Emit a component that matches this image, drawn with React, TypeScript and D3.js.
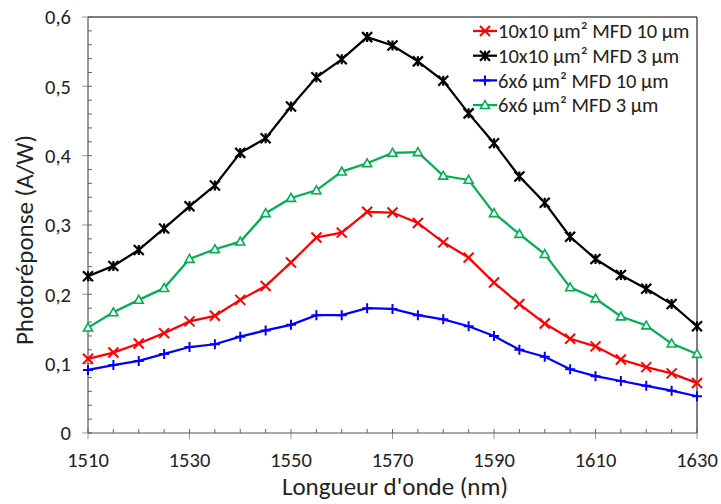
import React from "react";
import * as d3 from "d3";

const wavelengths = [1510,1515,1520,1525,1530,1535,1540,1545,1550,1555,1560,1565,1570,1575,1580,1585,1590,1595,1600,1605,1610,1615,1620,1625,1630];
const red10x10mfd10 = [0.107,0.116,0.129,0.144,0.161,0.169,0.192,0.212,0.246,0.282,0.289,0.319,0.318,0.303,0.275,0.253,0.217,0.186,0.158,0.136,0.125,0.106,0.095,0.086,0.072];
const black10x10mfd3 = [0.226,0.241,0.264,0.295,0.327,0.357,0.404,0.425,0.471,0.513,0.539,0.571,0.559,0.536,0.508,0.461,0.418,0.370,0.332,0.283,0.251,0.228,0.208,0.186,0.154];
const blue6x6mfd10 = [0.091,0.098,0.104,0.114,0.124,0.128,0.139,0.148,0.156,0.170,0.170,0.180,0.179,0.170,0.164,0.154,0.140,0.120,0.110,0.092,0.082,0.075,0.068,0.061,0.053];
const green6x6mfd3 = [0.152,0.174,0.192,0.209,0.251,0.265,0.276,0.317,0.339,0.350,0.377,0.389,0.404,0.405,0.371,0.365,0.317,0.287,0.258,0.210,0.194,0.168,0.155,0.129,0.114];

const seriesNames = ["10x10 µm² MFD 10 µm", "10x10 µm² MFD 3 µm", "6x6 µm² MFD 10 µm", "6x6 µm² MFD 3 µm"];
const seriesColors = ["#FF0000", "#000000", "#0000FF", "#00B050"];
const seriesMarkers = ["x", "star", "plus", "triangle"];
const seriesValues = [red10x10mfd10, black10x10mfd3, blue6x6mfd10, green6x6mfd3];

const xTicks = [1510, 1530, 1550, 1570, 1590, 1610, 1630];
const yTicks = [0, 0.1, 0.2, 0.3, 0.4, 0.5, 0.6];

const W = 721, H = 504;
const M = { left: 88, right: 721 - 697, top: 17, bottom: 504 - 433 };

function Marker({ type, x, y, color }: { type: string; x: number; y: number; color: string }) {
  const s = 5;
  if (type === "x") {
    return <path d={`M${x - s},${y - s}L${x + s},${y + s}M${x - s},${y + s}L${x + s},${y - s}`} stroke={color} strokeWidth={2} fill="none" />;
  }
  if (type === "star") {
    return <path d={`M${x - s},${y - s}L${x + s},${y + s}M${x - s},${y + s}L${x + s},${y - s}M${x},${y - s}L${x},${y + s}`} stroke={color} strokeWidth={2.2} fill="none" />;
  }
  if (type === "plus") {
    return <path d={`M${x - s},${y}L${x + s},${y}M${x},${y - s}L${x},${y + s}`} stroke={color} strokeWidth={2} fill="none" />;
  }
  const t = 4.5;
  return <path d={`M${x},${y - t}L${x + t},${y + t * 0.75}L${x - t},${y + t * 0.75}Z`} stroke={color} strokeWidth={1.6} fill="white" />;
}

export default function App() {
  const x = d3.scaleLinear().domain([1510, 1630]).range([M.left, W - M.right]);
  const y = d3.scaleLinear().domain([0, 0.6]).range([H - M.bottom, M.top]);
  const line = d3.line<[number, number]>().x(d => x(d[0])).y(d => y(d[1]));
  const xMinor = d3.range(1510, 1631, 5);
  const yMinor = d3.range(0, 0.601, 0.02);
  const fmt = (v: number) => (v === 0 ? "0" : v.toFixed(1).replace(".", ","));
  const font = "Carlito, 'Open Sans', 'Noto Sans', sans-serif";

  return (
    <svg width={W} height={H} style={{ position: "absolute", left: 0, top: 0, background: "white" }} fontFamily={font}>
      <rect x={0} y={0} width={W} height={H} fill="white" />
      {/* frame */}
      <line x1={x(1510)} x2={x(1630)} y1={y(0.6)} y2={y(0.6)} stroke="#000" strokeWidth={1} />
      <line x1={x(1630)} x2={x(1630)} y1={y(0.6)} y2={y(0)} stroke="#000" strokeWidth={1} />
      {/* y axis */}
      {yMinor.map((v, i) => (
        <line key={"ym" + i} x1={x(1510)} x2={x(1510) + 4} y1={y(v)} y2={y(v)} stroke="#666" strokeWidth={1} />
      ))}
      {yTicks.map(v => (
        <g key={"yt" + v}>
          <line x1={x(1510) - 6} x2={x(1510)} y1={y(v)} y2={y(v)} stroke="#999" strokeWidth={1} />
          <text x={71} y={y(v)} dy="0.35em" textAnchor="end" fontSize={20.5} fill="#222">{fmt(v)}</text>
        </g>
      ))}
      <line x1={x(1510)} x2={x(1510)} y1={y(0.6)} y2={y(0)} stroke="#555" strokeWidth={1.2} />
      {/* x axis */}
      {xMinor.map(v => (
        <line key={"xm" + v} x1={x(v)} x2={x(v)} y1={y(0)} y2={y(0) - 4} stroke="#666" strokeWidth={1} />
      ))}
      {xTicks.map(v => (
        <g key={"xt" + v}>
          <line x1={x(v)} x2={x(v)} y1={y(0)} y2={y(0) + 6} stroke="#999" strokeWidth={1} />
          <text x={x(v)} y={467} textAnchor="middle" fontSize={20.5} fill="#222">{v}</text>
        </g>
      ))}
      <line x1={x(1510)} x2={x(1630)} y1={y(0)} y2={y(0)} stroke="#555" strokeWidth={1.2} />
      {/* titles */}
      <text x={395} y={495} textAnchor="middle" fontSize={25} fill="#222">Longueur d'onde (nm)</text>
      <text transform={`translate(33,240) rotate(-90)`} textAnchor="middle" fontSize={25} fill="#222">Photoréponse (A/W)</text>
      {/* series */}
      {seriesValues.map((vals, si) => {
        const pts: [number, number][] = wavelengths.map((w, i) => [w, vals[i]]);
        return (
          <g key={"s" + si}>
            <path d={line(pts) || ""} stroke={seriesColors[si]} strokeWidth={2.25} fill="none" />
            {pts.map((p, i) => (
              <Marker key={i} type={seriesMarkers[si]} x={x(p[0])} y={y(p[1])} color={seriesColors[si]} />
            ))}
          </g>
        );
      })}
      {/* legend */}
      {seriesNames.map((n, i) => {
        const ly = 31 + i * 24.7;
        return (
          <g key={"lg" + i}>
            <line x1={473} x2={497} y1={ly} y2={ly} stroke={seriesColors[i]} strokeWidth={2.25} />
            <Marker type={seriesMarkers[i]} x={485} y={ly} color={seriesColors[i]} />
            <text x={498} y={ly} dy="0.35em" fontSize={20.5} fill="#222">{n}</text>
          </g>
        );
      })}
    </svg>
  );
}
